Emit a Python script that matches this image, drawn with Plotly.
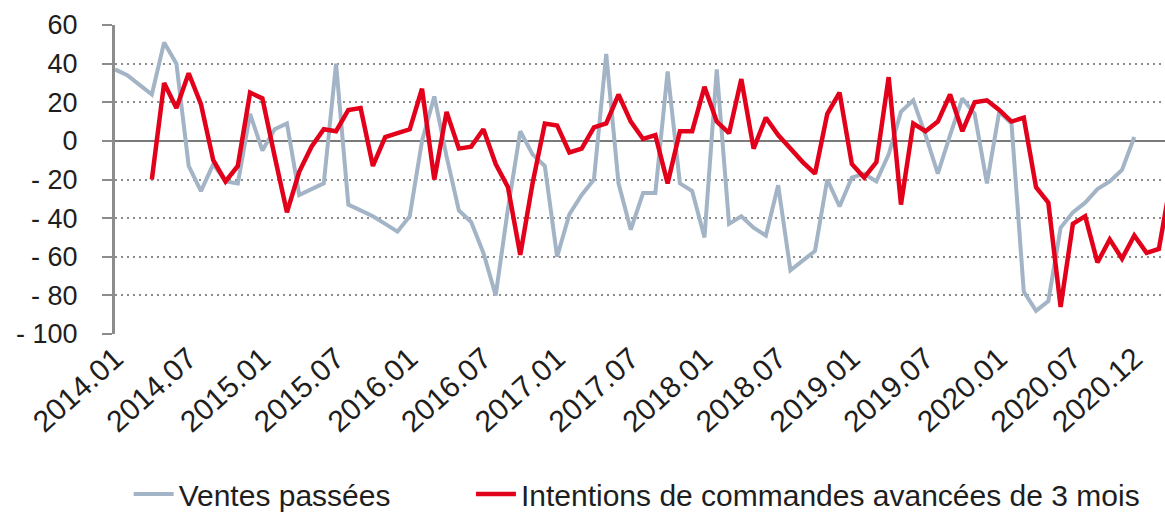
import plotly.graph_objects as go

# Month labels (categories) from 2014.01 to 2021.03
months = [f"{y}.{m:02d}" for y in range(2014, 2022) for m in range(1, 13)][:87]

# Ventes passées (2014.01 .. 2020.12)
ventes = [37, 34, 29, 24, 51, 40, -13, -26, -12, -21,
          -22, 14, -5, 6, 9, -28, -25, -22, 40, -33,
          -36, -39, -43, -47, -39, 0, 23, -8, -36, -42,
          -58, -80, -35, 5, -7, -13, -60, -38, -28, -20,
          45, -22, -46, -27, -27, 36, -22, -26, -50, 37,
          -43, -39, -45, -49, -23, -67, -62, -57, -20, -34,
          -19, -17, -21, -7, 15, 21, 3, -17, 3, 22,
          14, -22, 15, 9, -78, -88, -83, -45, -37, -32,
          -25, -21, -15, 2, None, None, None]

# Intentions de commandes avancées de 3 mois (2014.04 .. 2021.03)
intentions = [None, None, None, -20, 30, 17, 35, 19, -10, -21,
              -13, 25, 22, -8, -37, -16, -3, 6, 5, 16,
              17, -13, 2, 4, 6, 27, -20, 15, -4, -3,
              6, -12, -24, -59, -22, 9, 8, -6, -4, 7,
              9, 24, 10, 1, 3, -22, 5, 5, 28, 10,
              4, 32, -4, 12, 3, -4, -11, -17, 14, 25,
              -12, -19, -11, 33, -33, 9, 5, 10, 24, 5,
              20, 21, 16, 10, 12, -24, -32, -86, -43, -39,
              -63, -51, -61, -49, -58, -56, -20]

xtick_labels = ["2014.01", "2014.07", "2015.01", "2015.07", "2016.01", "2016.07",
                "2017.01", "2017.07", "2018.01", "2018.07", "2019.01", "2019.07",
                "2020.01", "2020.07", "2020.12"]
ytick_vals = [60, 40, 20, 0, -20, -40, -60, -80, -100]
ytick_text = ["60", "40", "20", "0", "- 20", "- 40", "- 60", "- 80", "- 100"]

FONT = "Liberation Sans, Arial, sans-serif"
TXT = "#1E1E1E"

fig = go.Figure()
fig.add_trace(go.Scatter(
    x=months, y=ventes, mode="lines", name="Ventes passées",
    line=dict(color="#A2B4C5", width=4), connectgaps=False, legend="legend"))
fig.add_trace(go.Scatter(
    x=months, y=intentions, mode="lines",
    name="Intentions de commandes avancées de 3 mois",
    line=dict(color="#E2001A", width=4.5), connectgaps=False, legend="legend2"))

legend_common = dict(orientation="h", xanchor="left", y=-0.52, yanchor="middle",
                     font=dict(family=FONT, size=30, color=TXT),
                     itemwidth=40, bgcolor="rgba(0,0,0,0)")

fig.update_layout(
    width=1165, height=520,
    margin=dict(l=115, r=0, t=25, b=185),
    paper_bgcolor="white", plot_bgcolor="white",
    font=dict(family=FONT, size=26, color=TXT),
    showlegend=True,
    legend=dict(x=0.013, **legend_common),
    legend2=dict(x=0.339, **legend_common),
)

fig.update_xaxes(
    type="category", categoryorder="array", categoryarray=months,
    range=[0, 85.5],
    tickmode="array", tickvals=xtick_labels, ticktext=xtick_labels,
    tickangle=-42, tickfont=dict(family=FONT, size=30, color=TXT),
    showgrid=False, showline=False, zeroline=False, ticks="",
)

fig.update_yaxes(
    range=[-100, 60],
    tickmode="array", tickvals=ytick_vals, ticktext=ytick_text,
    tickfont=dict(family=FONT, size=27, color=TXT),
    showgrid=True, gridcolor="#8C8C8C", gridwidth=2, griddash="2px,4px",
    zeroline=True, zerolinecolor="#7A7A7A", zerolinewidth=2,
    showline=True, linecolor="#8C8C8C", linewidth=3,
    ticks="outside", ticklen=10, tickcolor="#8C8C8C", tickwidth=2,
    ticklabelstandoff=19,
)

fig.write_html("out.html",
               config={"displayModeBar": False},
               post_script="document.body.style.margin='0px';document.body.style.overflow='hidden';")
